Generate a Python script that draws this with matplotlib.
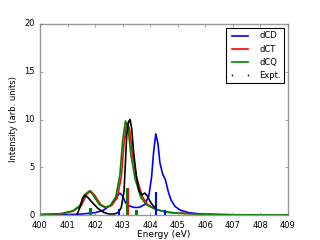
import matplotlib
matplotlib.use("Agg")
import numpy as np
from matplotlib import pyplot as plt
from matplotlib.lines import Line2D

plt.style.use('classic')

# dCD (blue) spectrum
cd_e = [400, 401, 401.5, 402, 402.3, 402.6, 402.8, 402.9, 403.0, 403.1, 403.2, 403.4,
        403.6, 403.8, 403.95, 404.05, 404.12, 404.2, 404.28, 404.35, 404.45, 404.55,
        404.65, 404.75, 404.9, 405.1, 405.4, 405.8, 406.5, 407, 409]
cd_i = [0, 0.05, 0.1, 0.25, 0.5, 1.1, 2.0, 2.3, 2.0, 1.3, 1.0, 0.8,
        0.8, 1.1, 2.0, 4.0, 6.5, 8.5, 7.5, 5.5, 4.3, 3.7,
        2.5, 1.6, 0.9, 0.5, 0.25, 0.12, 0.05, 0.02, 0]

# dCT (red)
ct_e = [400, 400.8, 401.2, 401.5, 401.7, 401.85, 402.0, 402.2, 402.4, 402.6, 402.8,
        402.95, 403.05, 403.15, 403.25, 403.35, 403.5, 403.7, 403.9, 404.2, 404.6,
        405, 406, 407, 409]
ct_i = [0.05, 0.15, 0.4, 1.0, 2.2, 2.5, 2.0, 1.1, 0.8, 1.0, 1.8,
        4.0, 7.5, 9.7, 9.0, 6.5, 4.0, 2.0, 1.1, 0.6, 0.3,
        0.2, 0.06, 0.03, 0.01]

# dCQ (green)
cq_e = [400, 400.8, 401.2, 401.45, 401.65, 401.8, 401.95, 402.15, 402.35, 402.55, 402.75,
        402.9, 403.0, 403.1, 403.2, 403.3, 403.45, 403.65, 403.85, 404.2, 404.6,
        405, 406, 407, 409]
cq_i = [0.05, 0.15, 0.45, 1.0, 2.2, 2.55, 2.0, 1.1, 0.8, 1.0, 1.9,
        4.2, 7.8, 9.85, 9.0, 6.3, 3.8, 1.9, 1.1, 0.6, 0.3,
        0.2, 0.06, 0.03, 0.01]

# experiment (black)
ex_e = [401.35, 401.45, 401.55, 401.62, 401.75, 401.9, 402.1, 402.3, 402.5, 402.7, 402.85,
        402.95, 403.05, 403.1, 403.15, 403.22, 403.27, 403.33, 403.4, 403.5, 403.6,
        403.7, 403.8, 403.9, 404.0, 404.1, 404.2]
ex_i = [0.1, 0.8, 1.8, 2.1, 1.8, 1.3, 0.7, 0.3, 0.1, 0.1, 0.3,
        0.8, 2.5, 5.5, 8.5, 9.8, 10.0, 9.0, 6.5, 4.0, 2.5,
        2.1, 2.3, 2.0, 1.4, 1.0, 0.7]

# stick spectra
cd_sticks_e = [402.88, 404.2, 404.55]
cd_sticks_i = [0.6, 2.4, 0.5]
ct_sticks_e = [401.85, 403.2, 403.52]
ct_sticks_i = [0.7, 2.8, 0.5]
cq_sticks_e = [401.8, 403.15, 403.47]
cq_sticks_i = [0.7, 2.8, 0.5]

fig = plt.figure(figsize=(3.2, 2.4), dpi=100)
ax = fig.add_axes([0.125, 0.104, 0.775, 0.796])

ax.plot(cd_e, cd_i, 'b-', lw=1.2, label='dCD')
ax.plot(ct_e, ct_i, 'r-', lw=1.2, label='dCT')
ax.plot(cq_e, cq_i, 'g-', lw=1.2, label='dCQ')
ax.plot(ex_e, ex_i, 'k-', lw=1.2)

ax.vlines(cd_sticks_e, 0, cd_sticks_i, colors='b', lw=1.5)
ax.vlines(ct_sticks_e, 0, ct_sticks_i, colors='r', lw=1.5)
ax.vlines(cq_sticks_e, 0, cq_sticks_i, colors='g', lw=1.5)

ax.set_xlim(400, 409)
ax.set_ylim(0, 20)
ax.set_xticks(range(400, 410))
ax.set_yticks([0, 5, 10, 15, 20])
ax.ticklabel_format(useOffset=False)
ax.tick_params(labelsize=6, length=2, color='0.5')
for s in ax.spines.values():
    s.set_edgecolor('0.6')
ax.set_xlabel('Energy (eV)', fontsize=6.5, labelpad=0)
ax.set_ylabel('Intensity (arb. units)', fontsize=6, labelpad=4)

handles, labels = ax.get_legend_handles_labels()
handles.append(Line2D([], [], color='k', marker='.', ms=1.5, ls='none'))
labels.append('Expt.')
leg = ax.legend(handles, labels, loc='upper right', fontsize=6, numpoints=2,
                handlelength=2.5, borderpad=0.4, labelspacing=0.5, handletextpad=1.0)
leg.get_frame().set_linewidth(0.8)

fig.savefig('out.png', dpi=100)
